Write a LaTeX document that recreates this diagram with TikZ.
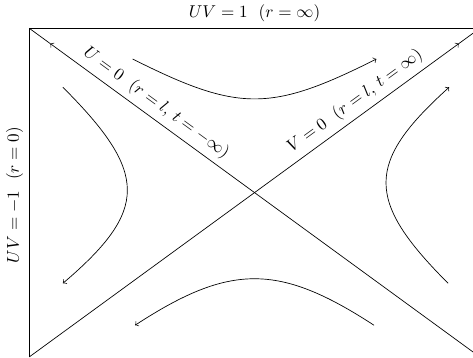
\documentclass[tikz,border=0pt]{standalone}
\usepackage{amsmath}
\usepackage{tikz}
\usetikzlibrary{calc}

\begin{document}
\begin{tikzpicture}[
  every node/.style={font=\fontsize{9.6}{11}\selectfont},
  flow/.style={->},
  tag/.style={sloped, above}
]
\useasboundingbox (-5.22,-3.39) rectangle (4.48,3.95);
\coordinate (tl) at (-4.62,3.37);
\coordinate (tr) at (4.62,3.37);
\coordinate (bl) at (-4.62,-3.37);
\coordinate (br) at (4.62,-3.37);
\coordinate (ua) at ($(br)!0.9535!(tl)$);
\coordinate (va) at ($(bl)!0.9535!(tr)$);
\draw (bl) -- (tl) -- (tr);
\draw[flow] (br) -- (ua);
\draw (ua) -- (tl);
\draw[flow] (bl) -- (va);
\draw (va) -- (tr);
\node[above] (boundary) at ($(tl)!0.5!(tr)$) {$UV=1\ \ (r=\infty)$};
\node[rotate=90, anchor=south] (origin) at (-4.62,-0.05) {$UV=-1\ \ (r=0)$};
\path (tl) -- (br) node[tag, pos=0.263] (upast) {$U=0\ \ (r=l,\, t=-\infty)$};
\path (bl) -- (tr) node[tag, pos=0.742] (vfut) {$V=0\ \ (r=l,\, t=\infty)$};
\draw[flow] (-2.5,2.74) .. controls (-0.33,1.65) and (0.33,1.65) .. (2.5,2.74);
\draw[flow] (2.45,-2.72) .. controls (0.5,-1.45) and (-0.5,-1.45) .. (-2.45,-2.72);
\draw[flow] (-3.93,2.16) .. controls (-2.17,0.40) and (-2.17,-0.36) .. (-3.93,-1.86);
\draw[flow] (3.97,-1.86) .. controls (2.27,-0.16) and (2.27,0.61) .. (3.99,2.16);
\end{tikzpicture}
\end{document}
